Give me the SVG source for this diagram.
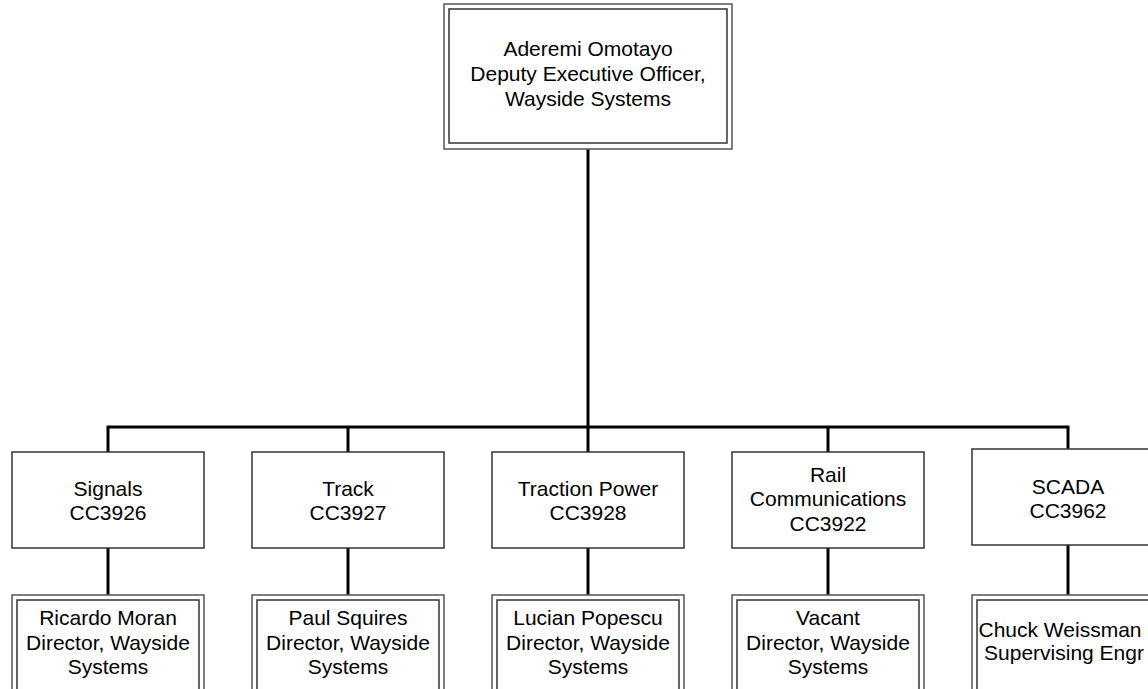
<svg xmlns="http://www.w3.org/2000/svg" width="1148" height="689" viewBox="0 0 1148 689">
<style>
.bg{fill:#fff}
.box{fill:#fff;stroke:#333;stroke-width:1.5}
.outer{fill:#fff;stroke:#555;stroke-width:1.5}
.inner{fill:none;stroke:#333;stroke-width:1.5}
.t{font-family:"Liberation Sans",Arial,sans-serif;font-size:21px;fill:#000;text-anchor:middle}
.c{fill:none;stroke:#000;stroke-width:3}
</style>
<rect class="bg" x="0" y="0" width="1148" height="689"/>
<g id="connectors">
<path class="c" d="M588 149V427"/>
<path class="c" d="M108 452V427H1068V450"/>
<path class="c" d="M348 427V452M588 427V452M828 427V452"/>
<path class="c" d="M108 548V595M348 548V595M588 548V595M828 548V595M1068 545V595"/>
</g>
<g id="n-omotayo">
<rect class="outer" x="444" y="4" width="288" height="145"/>
<rect class="inner" x="449" y="9" width="278" height="134"/>
<text class="t" x="588" y="56">Aderemi Omotayo</text>
<text class="t" x="588" y="81">Deputy Executive Officer,</text>
<text class="t" x="588" y="106">Wayside Systems</text>
</g>
<g id="n-signals">
<rect class="box" x="12" y="452" width="192" height="96"/>
<text class="t" x="108" y="496">Signals</text>
<text class="t" x="108" y="520">CC3926</text>
</g>
<g id="n-track">
<rect class="box" x="252" y="452" width="192" height="96"/>
<text class="t" x="348" y="496">Track</text>
<text class="t" x="348" y="520">CC3927</text>
</g>
<g id="n-traction">
<rect class="box" x="492" y="452" width="192" height="96"/>
<text class="t" x="588" y="496">Traction Power</text>
<text class="t" x="588" y="520">CC3928</text>
</g>
<g id="n-railcomm">
<rect class="box" x="732" y="452" width="192" height="96"/>
<text class="t" x="828" y="482">Rail</text>
<text class="t" x="828" y="506">Communications</text>
<text class="t" x="828" y="531">CC3922</text>
</g>
<g id="n-scada">
<rect class="box" x="972" y="449" width="192" height="96"/>
<text class="t" x="1068" y="494">SCADA</text>
<text class="t" x="1068" y="518">CC3962</text>
</g>
<g id="n-moran">
<rect class="outer" x="12" y="595" width="192" height="110"/>
<rect class="inner" x="17" y="600" width="182" height="100"/>
<text class="t" x="108" y="625">Ricardo Moran</text>
<text class="t" x="108" y="650">Director, Wayside</text>
<text class="t" x="108" y="674">Systems</text>
</g>
<g id="n-squires">
<rect class="outer" x="252" y="595" width="192" height="110"/>
<rect class="inner" x="257" y="600" width="182" height="100"/>
<text class="t" x="348" y="625">Paul Squires</text>
<text class="t" x="348" y="650">Director, Wayside</text>
<text class="t" x="348" y="674">Systems</text>
</g>
<g id="n-popescu">
<rect class="outer" x="492" y="595" width="192" height="110"/>
<rect class="inner" x="497" y="600" width="182" height="100"/>
<text class="t" x="588" y="625">Lucian Popescu</text>
<text class="t" x="588" y="650">Director, Wayside</text>
<text class="t" x="588" y="674">Systems</text>
</g>
<g id="n-vacant">
<rect class="outer" x="732" y="595" width="192" height="110"/>
<rect class="inner" x="737" y="600" width="182" height="100"/>
<text class="t" x="828" y="625">Vacant</text>
<text class="t" x="828" y="650">Director, Wayside</text>
<text class="t" x="828" y="674">Systems</text>
</g>
<g id="n-weissman">
<rect class="outer" x="972" y="595" width="192" height="110"/>
<rect class="inner" x="977" y="600" width="182" height="100"/>
<text class="t" x="1060" y="637">Chuck Weissman</text>
<text class="t" x="1064" y="660">Supervising Engr</text>
</g>
</svg>
